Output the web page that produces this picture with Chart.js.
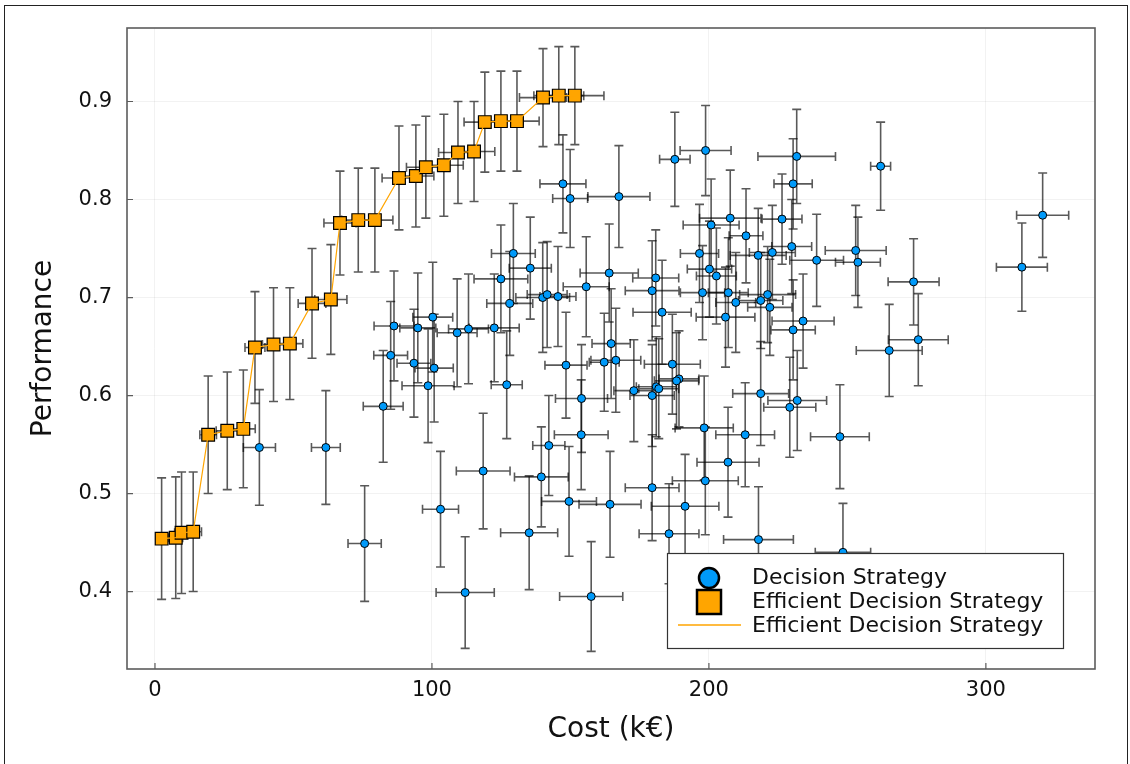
<!DOCTYPE html>
<html lang="en">
<head>
<meta charset="UTF-8">
<title>Decision Strategies: Cost vs Performance</title>
<script src="https://cdn.jsdelivr.net/npm/chart.js"></script>
<style>
  html, body { margin: 0; padding: 0; background: #ffffff; }
  #wrap { width: 1130px; height: 764px; }
</style>
</head>
<body>
<div id="wrap"><canvas id="chart" width="1130" height="764"></canvas></div>
<script>
// All decision strategies: cost (k€), performance, and their uncertainties
const stratCost = [37.7, 61.7, 75.7, 82.4, 85.1, 86.3, 94.9, 93.5, 100.8, 100.3, 98.6, 109.1, 113.2, 122.5, 124.9, 128.1, 129.4, 135.5, 127.0, 140.0,
  141.6, 145.5, 147.3, 149.9, 167.5, 155.7, 164.0, 180.8, 179.5, 183.1, 164.7, 162.2, 166.4, 148.4, 154.0, 153.9, 142.2, 139.5, 118.5, 103.1,
  112.0, 135.1, 149.5, 157.5, 164.3, 179.5, 185.6, 191.4, 198.7, 206.9, 217.9, 248.4, 213.1, 198.3, 247.3, 218.7, 231.9, 229.2, 172.9, 181.0,
  181.9, 179.5, 186.8, 189.2, 188.3, 187.7, 198.8, 231.7, 230.4, 262.0, 207.7, 200.8, 213.4, 226.4, 196.6, 217.8, 222.9, 229.9, 238.9, 253.0,
  253.8, 273.9, 275.6, 265.1, 313.0, 320.5, 200.2, 202.7, 197.7, 207.0, 209.7, 206.0, 221.2, 218.7, 222.0, 234.0, 230.4];
const stratPerf = [0.547, 0.547, 0.449, 0.589, 0.641, 0.671, 0.669, 0.633, 0.628, 0.680, 0.610, 0.664, 0.668, 0.669, 0.719, 0.694, 0.745, 0.730, 0.611, 0.700,
  0.703, 0.701, 0.816, 0.801, 0.803, 0.711, 0.725, 0.720, 0.707, 0.685, 0.653, 0.634, 0.636, 0.631, 0.597, 0.560, 0.549, 0.517, 0.523, 0.484,
  0.399, 0.460, 0.492, 0.395, 0.489, 0.506, 0.459, 0.487, 0.513, 0.532, 0.453, 0.440, 0.560, 0.567, 0.558, 0.602, 0.595, 0.588, 0.605, 0.609,
  0.607, 0.600, 0.632, 0.617, 0.615, 0.841, 0.850, 0.844, 0.816, 0.834, 0.781, 0.774, 0.763, 0.780, 0.745, 0.743, 0.746, 0.752, 0.738, 0.748,
  0.736, 0.716, 0.657, 0.646, 0.731, 0.784, 0.729, 0.722, 0.705, 0.705, 0.695, 0.680, 0.703, 0.697, 0.690, 0.676, 0.667];
const stratCostErr = [5.8, 5.2, 6.0, 7.2, 6.1, 7.2, 6.5, 6.1, 6.9, 7.2, 9.4, 7.2, 7.2, 9.0, 9.7, 8.3, 7.9, 7.6, 5.6, 9.7,
  7.2, 6.5, 8.3, 6.3, 11.2, 8.3, 10.5, 8.3, 9.7, 10.5, 6.9, 5.4, 9.0, 7.6, 9.4, 9.7, 5.8, 9.7, 9.7, 6.5,
  10.5, 10.3, 9.9, 11.4, 11.2, 9.7, 10.8, 12.2, 11.9, 11.2, 12.6, 10.0, 10.6, 10.5, 10.6, 10.1, 10.6, 9.4, 7.2, 7.2,
  7.2, 8.0, 10.1, 7.2, 8.0, 5.5, 9.2, 14.0, 6.9, 3.6, 11.1, 10.1, 6.1, 7.2, 6.9, 10.1, 8.3, 7.2, 9.7, 11.0,
  8.1, 9.2, 10.8, 11.9, 9.2, 9.4, 8.0, 7.2, 8.0, 7.2, 7.2, 10.6, 10.1, 8.0, 8.0, 11.2, 8.0];
const stratPerfErr = [0.059, 0.058, 0.059, 0.057, 0.055, 0.056, 0.056, 0.055, 0.055, 0.056, 0.058, 0.055, 0.056, 0.055, 0.055, 0.053, 0.051, 0.052, 0.055, 0.056,
  0.054, 0.051, 0.050, 0.050, 0.052, 0.051, 0.050, 0.049, 0.051, 0.053, 0.056, 0.050, 0.053, 0.054, 0.055, 0.056, 0.051, 0.051, 0.059, 0.059,
  0.057, 0.058, 0.056, 0.056, 0.054, 0.054, 0.051, 0.053, 0.055, 0.056, 0.054, 0.050, 0.053, 0.053, 0.053, 0.053, 0.051, 0.051, 0.052, 0.051,
  0.051, 0.052, 0.051, 0.049, 0.049, 0.048, 0.046, 0.048, 0.046, 0.045, 0.049, 0.047, 0.048, 0.046, 0.050, 0.048, 0.048, 0.048, 0.047, 0.046,
  0.046, 0.044, 0.047, 0.047, 0.045, 0.043, 0.049, 0.049, 0.048, 0.056, 0.051, 0.051, 0.049, 0.049, 0.049, 0.048, 0.051];

// Efficient frontier
const effCost = [2.4, 7.5, 9.6, 13.8, 19.2, 26.1, 31.9, 36.1, 42.8, 48.7, 56.7, 63.5, 66.8, 73.4, 79.4, 88.1, 94.2, 97.8, 104.3, 109.4,
  115.2, 119.1, 124.9, 130.7, 140.1, 145.8, 151.6];
const effPerf = [0.454, 0.455, 0.460, 0.461, 0.560, 0.564, 0.566, 0.649, 0.652, 0.653, 0.694, 0.698, 0.776, 0.779, 0.779, 0.822, 0.824, 0.833, 0.835, 0.848,
  0.849, 0.879, 0.880, 0.880, 0.904, 0.906, 0.906];
const effCostErr = [2.0, 2.5, 2.5, 3.0, 3.0, 4.0, 4.3, 3.6, 4.0, 4.7, 5.0, 5.8, 5.8, 6.0, 6.5, 6.1, 6.5, 7.0, 7.0, 7.0,
  7.5, 7.5, 8.0, 8.0, 8.5, 9.0, 10.5];
const effPerfErr = [0.062, 0.062, 0.062, 0.061, 0.060, 0.060, 0.060, 0.057, 0.058, 0.057, 0.056, 0.056, 0.053, 0.053, 0.053, 0.053, 0.052, 0.052, 0.052, 0.052,
  0.051, 0.051, 0.051, 0.051, 0.050, 0.050, 0.050];

const xTicks = [0, 100, 200, 300];
const yTicks = [0.4, 0.5, 0.6, 0.7, 0.8, 0.9];

const FONT = "'DejaVu Sans', sans-serif";
const BLUE = '#009AFA';
const ORANGE = '#FFA500';

const toPoints = (xs, ys) => xs.map((v, i) => ({ x: v, y: ys[i] }));

// x/y error bars, drawn just under the markers of each dataset
const errorBars = {
  id: 'errorBars',
  beforeDatasetDraw(chart, args) {
    const ds = chart.data.datasets[args.index];
    if (!ds.errX) return;
    const { ctx, chartArea: a, scales: { x, y } } = chart;
    const cap = 4.5;
    ctx.save();
    ctx.beginPath();
    ctx.rect(a.left, a.top, a.width, a.height);
    ctx.clip();
    ctx.strokeStyle = 'rgba(0,0,0,0.65)';
    ctx.lineWidth = 1.6;
    ds.data.forEach((p, i) => {
      const px = x.getPixelForValue(p.x);
      const py = y.getPixelForValue(p.y);
      const xl = x.getPixelForValue(p.x - ds.errX[i]);
      const xr = x.getPixelForValue(p.x + ds.errX[i]);
      const yb = y.getPixelForValue(p.y - ds.errY[i]);
      const yt = y.getPixelForValue(p.y + ds.errY[i]);
      ctx.beginPath();
      ctx.moveTo(px, yt); ctx.lineTo(px, yb);
      ctx.moveTo(px - cap, yt); ctx.lineTo(px + cap, yt);
      ctx.moveTo(px - cap, yb); ctx.lineTo(px + cap, yb);
      ctx.stroke();
      ctx.beginPath();
      ctx.moveTo(xl, py); ctx.lineTo(xr, py);
      ctx.moveTo(xl, py - cap); ctx.lineTo(xl, py + cap);
      ctx.moveTo(xr, py - cap); ctx.lineTo(xr, py + cap);
      ctx.stroke();
    });
    ctx.restore();
  }
};

// plot frame, inward ticks, page border and the boxed legend
const frame = {
  id: 'frame',
  afterDraw(chart) {
    const { ctx, chartArea: a, scales: { x, y } } = chart;
    ctx.save();
    ctx.strokeStyle = '#222';
    ctx.lineWidth = 1;
    ctx.strokeRect(4.5, 5.5, chart.width - 7, chart.height + 10);

    ctx.strokeStyle = '#5c5c5c';
    ctx.lineWidth = 1.6;
    ctx.strokeRect(a.left, a.top, a.width, a.height);
    ctx.lineWidth = 1.2;
    ctx.beginPath();
    xTicks.forEach(v => {
      const px = x.getPixelForValue(v);
      ctx.moveTo(px, a.bottom); ctx.lineTo(px, a.bottom - 6);
    });
    yTicks.forEach(v => {
      const py = y.getPixelForValue(v);
      ctx.moveTo(a.left, py); ctx.lineTo(a.left + 6, py);
    });
    ctx.stroke();

    // legend
    const bw = 396, bh = 95;
    const bx = a.right - 32 - bw, by = a.bottom - 21 - bh;
    ctx.fillStyle = '#fff';
    ctx.fillRect(bx, by, bw, bh);
    ctx.strokeStyle = '#333';
    ctx.lineWidth = 1.2;
    ctx.strokeRect(bx + 0.5, by + 0.5, bw, bh);

    const mx = bx + 42;
    const rows = [by + 25, by + 49, by + 72];
    ctx.lineWidth = 2.5;
    ctx.strokeStyle = '#000';
    ctx.fillStyle = BLUE;
    ctx.beginPath();
    ctx.arc(mx, rows[0], 10, 0, Math.PI * 2);
    ctx.fill(); ctx.stroke();
    ctx.fillStyle = ORANGE;
    ctx.fillRect(mx - 12, rows[1] - 12, 24, 24);
    ctx.strokeRect(mx - 12, rows[1] - 12, 24, 24);
    ctx.strokeStyle = ORANGE;
    ctx.lineWidth = 1.5;
    ctx.beginPath();
    ctx.moveTo(bx + 11, rows[2]); ctx.lineTo(bx + 74, rows[2]);
    ctx.stroke();

    ctx.fillStyle = '#111';
    ctx.font = '22px ' + FONT;
    ctx.textBaseline = 'middle';
    ctx.textAlign = 'left';
    const ty = [by + 25, by + 49, by + 73];
    chart.data.datasets.forEach((ds, i) => ctx.fillText(ds.label, bx + 85, ty[i]));
    ctx.restore();
  }
};

new Chart(document.getElementById('chart'), {
  type: 'scatter',
  data: {
    datasets: [
      {
        label: 'Decision Strategy',
        data: toPoints(stratCost, stratPerf),
        errX: stratCostErr,
        errY: stratPerfErr,
        backgroundColor: BLUE,
        borderColor: '#000',
        borderWidth: 1,
        pointRadius: 4,
        pointStyle: 'circle',
        order: 3
      },
      {
        label: 'Efficient Decision Strategy',
        data: toPoints(effCost, effPerf),
        errX: effCostErr,
        errY: effPerfErr,
        backgroundColor: ORANGE,
        borderColor: '#000',
        borderWidth: 1.2,
        pointRadius: 9,
        pointStyle: 'rect',
        order: 2
      },
      {
        type: 'line',
        label: 'Efficient Decision Strategy',
        data: toPoints(effCost, effPerf),
        borderColor: ORANGE,
        borderWidth: 1.2,
        pointRadius: 0,
        showLine: true,
        fill: false,
        order: 1
      }
    ]
  },
  options: {
    responsive: false,
    animation: false,
    events: [],
    layout: { padding: { top: 28, right: 35, left: 0, bottom: 0 } },
    plugins: { legend: { display: false }, tooltip: { enabled: false } },
    scales: {
      x: {
        type: 'linear',
        min: -10.1,
        max: 339.4,
        afterFit: s => { s.height = 95; },
        afterBuildTicks: s => { s.ticks = xTicks.map(v => ({ value: v })); },
        border: { display: false },
        grid: { color: 'rgba(0,0,0,0.05)', drawTicks: false },
        ticks: { color: '#111', font: { family: FONT, size: 21 }, padding: 9, maxRotation: 0 },
        title: { display: true, text: 'Cost (k€)', color: '#111', font: { family: FONT, size: 28 }, padding: { bottom: 17 } }
      },
      y: {
        type: 'linear',
        min: 0.321,
        max: 0.975,
        afterFit: s => { s.width = 127; },
        afterBuildTicks: s => { s.ticks = yTicks.map(v => ({ value: v })); },
        border: { display: false },
        grid: { color: 'rgba(0,0,0,0.05)', drawTicks: false },
        ticks: { color: '#111', font: { family: FONT, size: 21 }, padding: 15, callback: v => v.toFixed(1) },
        title: { display: true, text: 'Performance', color: '#111', font: { family: FONT, size: 28 }, padding: { top: 27 } }
      }
    }
  },
  plugins: [errorBars, frame]
});
</script>
</body>
</html>
